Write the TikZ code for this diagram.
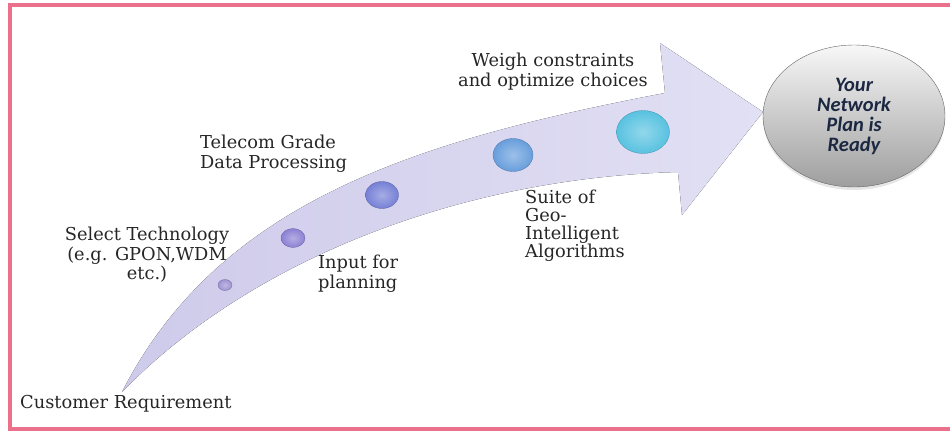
\documentclass[tikz,border=0pt]{standalone}
\usepackage{fontspec}
\setmainfont{DejaVu Serif}
\newfontfamily\planfont{Carlito}
\usetikzlibrary{shapes.geometric, shadows}

\definecolor{framepink}{RGB}{234,112,140}
\definecolor{arrowtail}{RGB}{206,202,234}
\definecolor{arrowhead}{RGB}{226,224,244}
\definecolor{ballA}{RGB}{158,146,210}
\definecolor{ballB}{RGB}{140,128,212}
\definecolor{ballC}{RGB}{118,128,214}
\definecolor{ballD}{RGB}{104,158,220}
\definecolor{ballE}{RGB}{88,194,224}
\definecolor{plantext}{RGB}{28,40,66}

\begin{document}
\begin{tikzpicture}[x=1pt, y=-1pt,
    stagetext/.style={inner sep=0pt, text=black!85, font=\fontsize{17.8}{19.5}\selectfont},
    orb/.style={ellipse, inner sep=0pt, draw=#1!75!black, line width=0.3pt, inner color=#1!65!white, outer color=#1},
    plan/.style={ellipse, minimum width=182pt, minimum height=142pt, draw=black!60, top color=black!3, bottom color=black!38,
        align=center, text=plantext, font=\planfont\bfseries\itshape\fontsize{20.5}{20}\selectfont,
        drop shadow={opacity=0.2, shadow xshift=0pt, shadow yshift=-3pt}}]

    \useasboundingbox (0,0) rectangle (950,431);
    % frame, open on the right
    \draw[framepink, line width=4pt] (950,5) -- (10,5) -- (10,429) -- (950,429);

    % big curved arrow
    \fill[left color=arrowtail, right color=arrowhead]
        (122,392) .. controls (220,200) and (420,140) .. (665,93)
        -- (660,43) -- (763,112) -- (682,215) -- (678,172)
        .. controls (460,178) and (250,260) .. (122,392) -- cycle;

    % stages on the arrow
    \node[orb=ballA, minimum width=14pt, minimum height=11pt] (b1) at (225,285) {};
    \node[orb=ballB, minimum width=24pt, minimum height=19pt] (b2) at (293,238) {};
    \node[orb=ballC, minimum width=33pt, minimum height=27pt] (b3) at (382,195) {};
    \node[orb=ballD, minimum width=40pt, minimum height=33pt] (b4) at (513,155) {};
    \node[orb=ballE, minimum width=53pt, minimum height=43pt] (b5) at (643,132) {};

    \node[stagetext, anchor=base west] (cust) at (20,408) {Customer Requirement};
    \node[stagetext, anchor=north, align=center] (tech) at (147,227) {Select Technology\\(e.g. GPON,WDM\\etc.)};
    \node[stagetext, anchor=north west, align=left] (proc) at (200,135) {Telecom Grade\\Data Processing};
    \node[stagetext, anchor=north west, align=left] (input) at (318,255) {Input for\\planning};
    \node[stagetext, anchor=north west, align=left, font=\fontsize{17.8}{18}\selectfont] (algo) at (525,190) {Suite of\\Geo-\\Intelligent\\Algorithms};
    \node[stagetext, anchor=north, align=center] (weigh) at (553,53) {Weigh constraints\\and optimize choices};

    \node[plan] (ready) at (854,116) {Your\\Network\\Plan is\\Ready};
\end{tikzpicture}
\end{document}
